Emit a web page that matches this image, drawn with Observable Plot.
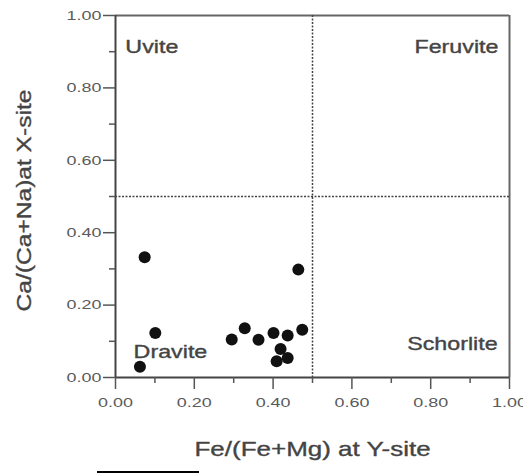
<!DOCTYPE html>
<html>
<head>
<meta charset="utf-8">
<script src="https://cdn.jsdelivr.net/npm/d3@7"></script>
<script src="https://cdn.jsdelivr.net/npm/@observablehq/plot@0.6"></script>
<style>
  html, body { margin: 0; padding: 0; background: #fff; }
  #wrap { position: relative; width: 523px; height: 474px; overflow: hidden; }
  #wrap svg { display: block; }
  #wrap svg text { paint-order: stroke; stroke-width: 0.35px; }
  #cut { position: absolute; left: 97px; top: 471px; width: 102px; height: 2px; background: #000; }
</style>
</head>
<body>
<div id="wrap"><div id="cut"></div></div>
<script>
// Data
const feRatio = [0.074, 0.101, 0.062, 0.464, 0.295, 0.328, 0.363, 0.401, 0.437, 0.474, 0.419, 0.409, 0.437];
const caRatio = [0.332, 0.123, 0.030, 0.298, 0.105, 0.136, 0.104, 0.123, 0.116, 0.132, 0.079, 0.045, 0.054];

const majorTicks = [0, 0.2, 0.4, 0.6, 0.8, 1.0];
const minorTicks = [0.1, 0.3, 0.5, 0.7, 0.9];

const fieldNames = ["Uvite", "Feruvite", "Dravite", "Schorlite"];
const fieldX = [0.025, 0.972, 0.046, 0.970];
const fieldY = [0.912, 0.913, 0.070, 0.092];
const fieldAnchor = ["start", "end", "start", "end"];

const boundary = [0.5];
const xTitle = "Fe/(Fe+Mg) at Y-site";
const yTitle = "Ca/(Ca+Na)at X-site";

const points = feRatio.map((x, i) => ({x, y: caRatio[i]}));
const fields = fieldNames.map((name, i) => ({name, x: fieldX[i], y: fieldY[i], anchor: fieldAnchor[i]}));

const font = "'Liberation Sans', Arial, Helvetica, sans-serif";

const chart = Plot.plot({
  width: 523,
  height: 474,
  marginLeft: 115,
  marginRight: 14,
  marginTop: 15,
  marginBottom: 97,
  style: {fontFamily: font, background: "#fff", overflow: "visible"},
  x: {domain: [0, 1]},
  y: {domain: [0, 1]},
  marks: [
    // frame
    Plot.ruleY([1], {stroke: "#666", strokeWidth: 2}),
    Plot.ruleX([1], {stroke: "#666", strokeWidth: 2}),
    // dotted boundaries
    Plot.ruleX(boundary, {stroke: "#444", strokeWidth: 1.5, strokeDasharray: "2,1.5"}),
    Plot.ruleY(boundary, {stroke: "#444", strokeWidth: 1.5, strokeDasharray: "2,1.5"}),
    Plot.ruleX([0], {stroke: "#444", strokeWidth: 2}),
    Plot.ruleY([0], {stroke: "#444", strokeWidth: 2}),
    // axes
    Plot.axisX(majorTicks, {tickSize: 12, tickPadding: 8, tickFormat: d => d.toFixed(2), fontSize: 13.5,
      stroke: "#555", strokeWidth: 1.5, fill: "#5a5a5a", label: null, className: "tl"}),
    Plot.axisX(minorTicks, {tickSize: 6, tickFormat: () => "", stroke: "#555", strokeWidth: 1.5, label: null}),
    Plot.axisY(majorTicks, {tickSize: 12, tickPadding: 2, tickFormat: d => d.toFixed(2), fontSize: 13.5,
      stroke: "#555", strokeWidth: 1.5, fill: "#5a5a5a", label: null, className: "tl"}),
    Plot.axisY(minorTicks, {tickSize: 6, tickFormat: () => "", stroke: "#555", strokeWidth: 1.5, label: null}),
    // field labels
    Plot.text(fields.filter(d => d.anchor === "start"), {x: "x", y: "y", text: "name", textAnchor: "start", fontSize: 17.5, fill: "#444", stroke: "#444", className: "fl"}),
    Plot.text(fields.filter(d => d.anchor === "end"), {x: "x", y: "y", text: "name", textAnchor: "end", fontSize: 17.5, fill: "#444", stroke: "#444", className: "fl"}),
    // data points
    Plot.dot(points, {x: "x", y: "y", r: 6, fill: "#111", stroke: "none"}),
    // axis titles
    Plot.text([xTitle], {frameAnchor: "bottom", dy: 78, fontSize: 20, fill: "#444", stroke: "#444", textAnchor: "middle", className: "xt"}),
    Plot.text([yTitle], {frameAnchor: "left", dx: -91, dy: 4, rotate: -90, fontSize: 21, fill: "#444", stroke: "#444", textAnchor: "middle", className: "yt"})
  ]
});

function stretch(root, sel, s) {
  root.querySelectorAll(sel).forEach(t => {
    const tr = t.getAttribute("transform") || "";
    t.setAttribute("transform", tr + ` scale(${s},1)`);
  });
}
stretch(chart, ".tl text", 1.33);
stretch(chart, ".fl text", 1.33);
stretch(chart, ".xt text", 1.3);
stretch(chart, ".yt text", 1.17);

document.getElementById("wrap").prepend(chart);
</script>
</body>
</html>
